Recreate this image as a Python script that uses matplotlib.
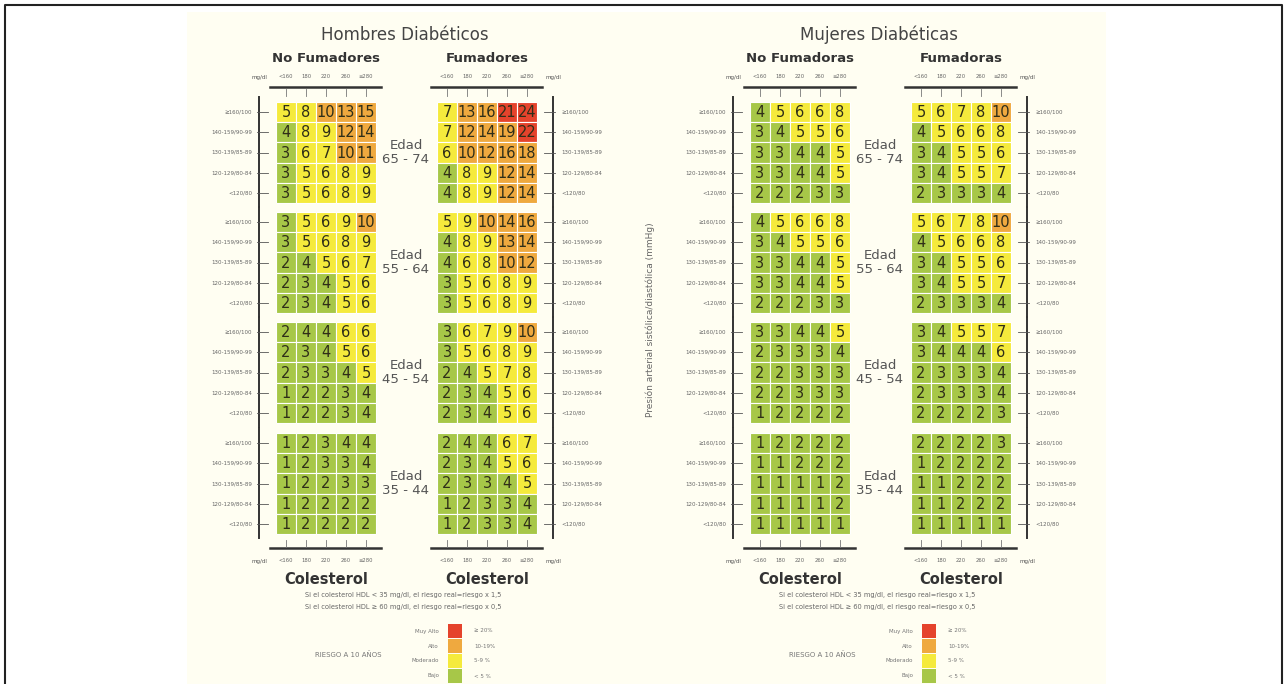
import matplotlib.pyplot as plt
from matplotlib.patches import Rectangle

# tabla de riesgo coronario a 10 años (REGICOR), diabeticos
col_labels = ['<160', '180', '220', '260', '≥280']
row_labels = ['≥160/100', '140-159/90-99', '130-139/85-89', '120-129/80-84', '<120/80']
edades = ['65 - 74', '55 - 64', '45 - 54', '35 - 44']

hombres_no_fum = [
    [[5, 8, 10, 13, 15], [4, 8, 9, 12, 14], [3, 6, 7, 10, 11], [3, 5, 6, 8, 9], [3, 5, 6, 8, 9]],
    [[3, 5, 6, 9, 10], [3, 5, 6, 8, 9], [2, 4, 5, 6, 7], [2, 3, 4, 5, 6], [2, 3, 4, 5, 6]],
    [[2, 4, 4, 6, 6], [2, 3, 4, 5, 6], [2, 3, 3, 4, 5], [1, 2, 2, 3, 4], [1, 2, 2, 3, 4]],
    [[1, 2, 3, 4, 4], [1, 2, 3, 3, 4], [1, 2, 2, 3, 3], [1, 2, 2, 2, 2], [1, 2, 2, 2, 2]],
]
hombres_fum = [
    [[7, 13, 16, 21, 24], [7, 12, 14, 19, 22], [6, 10, 12, 16, 18], [4, 8, 9, 12, 14], [4, 8, 9, 12, 14]],
    [[5, 9, 10, 14, 16], [4, 8, 9, 13, 14], [4, 6, 8, 10, 12], [3, 5, 6, 8, 9], [3, 5, 6, 8, 9]],
    [[3, 6, 7, 9, 10], [3, 5, 6, 8, 9], [2, 4, 5, 7, 8], [2, 3, 4, 5, 6], [2, 3, 4, 5, 6]],
    [[2, 4, 4, 6, 7], [2, 3, 4, 5, 6], [2, 3, 3, 4, 5], [1, 2, 3, 3, 4], [1, 2, 3, 3, 4]],
]
mujeres_no_fum = [
    [[4, 5, 6, 6, 8], [3, 4, 5, 5, 6], [3, 3, 4, 4, 5], [3, 3, 4, 4, 5], [2, 2, 2, 3, 3]],
    [[4, 5, 6, 6, 8], [3, 4, 5, 5, 6], [3, 3, 4, 4, 5], [3, 3, 4, 4, 5], [2, 2, 2, 3, 3]],
    [[3, 3, 4, 4, 5], [2, 3, 3, 3, 4], [2, 2, 3, 3, 3], [2, 2, 3, 3, 3], [1, 2, 2, 2, 2]],
    [[1, 2, 2, 2, 2], [1, 1, 2, 2, 2], [1, 1, 1, 1, 2], [1, 1, 1, 1, 2], [1, 1, 1, 1, 1]],
]
mujeres_fum = [
    [[5, 6, 7, 8, 10], [4, 5, 6, 6, 8], [3, 4, 5, 5, 6], [3, 4, 5, 5, 7], [2, 3, 3, 3, 4]],
    [[5, 6, 7, 8, 10], [4, 5, 6, 6, 8], [3, 4, 5, 5, 6], [3, 4, 5, 5, 7], [2, 3, 3, 3, 4]],
    [[3, 4, 5, 5, 7], [3, 4, 4, 4, 6], [2, 3, 3, 3, 4], [2, 3, 3, 3, 4], [2, 2, 2, 2, 3]],
    [[2, 2, 2, 2, 3], [1, 2, 2, 2, 2], [1, 1, 2, 2, 2], [1, 1, 2, 2, 2], [1, 1, 1, 1, 1]],
]

niveles = ['Muy Alto', 'Alto', 'Moderado', 'Bajo']
niveles_pct = ['≥ 20%', '10-19%', '5-9 %', '< 5 %']
colores = ['#e5432c', '#efa93f', '#f5ea3c', '#a7c748']


def color_riesgo(v):
    if v >= 20:
        return colores[0]
    if v >= 10:
        return colores[1]
    if v >= 5:
        return colores[2]
    return colores[3]


fig = plt.figure(figsize=(12.87, 6.84), dpi=100)
ax = fig.add_axes([0, 0, 1, 1])
ax.set_xlim(0, 1287)
ax.set_ylim(684, 0)
ax.axis('off')

# marco y fondo
ax.plot([5, 5, 1282, 1282], [690, 5, 5, 690], color='#222222', lw=1.5)
ax.add_patch(Rectangle((187, 12), 919, 680, facecolor='#fffef2', edgecolor='none'))

cw, ch = 20, 20.2
g_top = [102, 212, 322, 433]
txt_col = '#2f2e18'
lab_col = '#666666'


def draw_grid(x0, datos, lado_ejes, x_axis, x_lab):
    for g, bloque in enumerate(datos):
        y0 = g_top[g]
        for i, fila in enumerate(bloque):
            for j, v in enumerate(fila):
                ax.add_patch(Rectangle((x0 + j * cw, y0 + i * ch), cw, ch,
                                       facecolor=color_riesgo(v), edgecolor='white', lw=0.8))
                ax.text(x0 + j * cw + cw / 2, y0 + i * ch + ch / 2 + 0.5, str(v),
                        ha='center', va='center', fontsize=10.5, color=txt_col,
                        fontweight='medium')
        # eje vertical de presion arterial
        ax.plot([x_axis, x_axis], [y0 - 5, y0 + 5 * ch + 4], color='#333333', lw=1.4)
        for i, lab in enumerate(row_labels):
            yc = y0 + i * ch + ch / 2
            if lado_ejes == 'left':
                ax.plot([x_axis - 2, x_axis + 9], [yc, yc], color='#555555', lw=0.6)
                ax.text(x_lab, yc, lab, ha='right', va='center', fontsize=4, color=lab_col)
            else:
                ax.plot([x_axis - 9, x_axis + 2], [yc, yc], color='#555555', lw=0.6)
                ax.text(x_lab, yc, lab, ha='left', va='center', fontsize=4, color=lab_col)
    # ejes de colesterol arriba y abajo
    for y_line, y_t0, y_t1, y_txt in [(87, 89, 96, 77), (548, 540, 547, 561)]:
        ax.plot([x0 - 6, x0 + 5 * cw + 5], [y_line, y_line], color='#333333', lw=1.8)
        for j, lab in enumerate(col_labels):
            xc = x0 + j * cw + cw / 2
            ax.plot([xc, xc], [y_t0, y_t1], color='#777777', lw=0.6)
            ax.text(xc, y_txt, lab, ha='center', va='center', fontsize=3.8, color=lab_col)
        if lado_ejes == 'left':
            ax.text(x0 - 9, y_txt, 'mg/dl', ha='right', va='center', fontsize=4, color='#555555')
        else:
            ax.text(x0 + 5 * cw + 9, y_txt, 'mg/dl', ha='left', va='center', fontsize=4, color='#555555')
    ax.text(x0 + 50, 579, 'Colesterol', ha='center', va='center', fontsize=10.5,
            fontweight='bold', color='#333333')


paneles = [
    (0, 'Hombres Diabéticos', 'No Fumadores', 'Fumadores', hombres_no_fum, hombres_fum),
    (474, 'Mujeres Diabéticas', 'No Fumadoras', 'Fumadoras', mujeres_no_fum, mujeres_fum),
]

for off, titulo, sub_nf, sub_f, d_nf, d_f in paneles:
    x_nf = 276 + off
    x_f = 437 + off
    ax.text(405 + off, 35, titulo, ha='center', va='center', fontsize=12, color='#444444')
    ax.text(x_nf + 50, 59, sub_nf, ha='center', va='center', fontsize=9.5,
            fontweight='bold', color='#333333')
    ax.text(x_f + 50, 59, sub_f, ha='center', va='center', fontsize=9.5,
            fontweight='bold', color='#333333')
    draw_grid(x_nf, d_nf, 'left', x_nf - 17, x_nf - 24)
    draw_grid(x_f, d_f, 'right', x_f + 116, x_f + 124)
    for g, edad in enumerate(edades):
        yc = g_top[g] + 2.5 * ch
        ax.text(406 + off, yc, 'Edad\n' + edad, ha='center', va='center', fontsize=9.5,
                color='#555555', linespacing=1.1)
    ax.text(403 + off, 595, 'Si el colesterol HDL < 35 mg/dl, el riesgo real=riesgo x 1,5',
            ha='center', va='center', fontsize=4.8, color='#666666')
    ax.text(403 + off, 607, 'Si el colesterol HDL ≥ 60 mg/dl, el riesgo real=riesgo x 0,5',
            ha='center', va='center', fontsize=4.8, color='#666666')
    # leyenda
    ax.text(348 + off, 655, 'RIESGO A 10 AÑOS', ha='center', va='center', fontsize=5,
            color='#777777')
    for k in range(4):
        yc = 631 + 15 * k
        ax.add_patch(Rectangle((448 + off, yc - 7), 14, 14, facecolor=colores[k], edgecolor='none'))
        ax.text(439 + off, yc, niveles[k], ha='right', va='center', fontsize=4, color='#777777')
        ax.text(474 + off, yc, niveles_pct[k], ha='left', va='center', fontsize=4, color='#777777')

ax.text(650, 320, 'Presión arterial sistólica/diastólica (mmHg)', rotation=90,
        ha='center', va='center', fontsize=6.5, color='#666666')

fig.savefig('out.png', dpi=100)
